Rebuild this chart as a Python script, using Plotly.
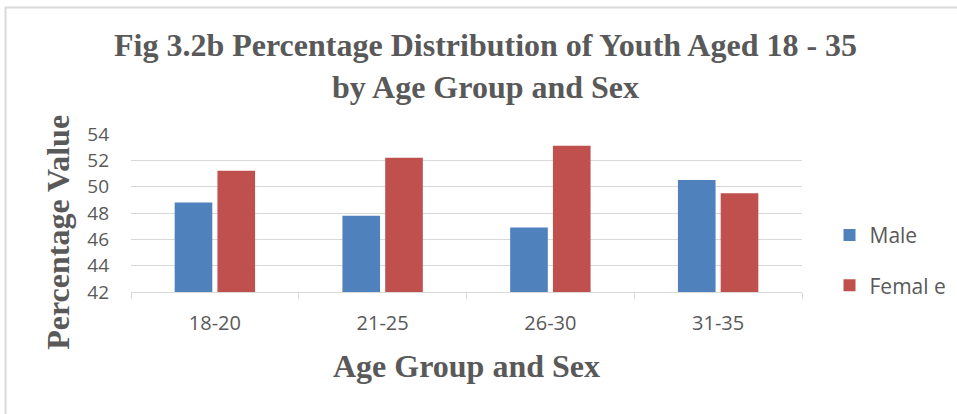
import plotly.graph_objects as go

# Age groups and percentage shares by sex
age_groups = ["18-20", "21-25", "26-30", "31-35"]
male_pct = [48.8, 47.8, 46.9, 50.5]
female_pct = [51.2, 52.2, 53.1, 49.5]
y_ticks = [42, 44, 46, 48, 50, 52, 54]

TEXT_GREY = "#595959"
SERIF = "Liberation Serif, Times New Roman, serif"
SANS = "Open Sans, Noto Sans, sans-serif"
TITLE = "Fig 3.2b Percentage Distribution of Youth Aged 18 - 35<br>by Age Group and Sex"
Y_TITLE = "Percentage Value"

fig = go.Figure()
fig.add_trace(go.Bar(name="Male", x=age_groups, y=male_pct,
                     marker=dict(color="#4F81BD", line=dict(width=0)),
                     legendgroup="m"))
fig.add_trace(go.Bar(name="Femal e", x=age_groups, y=female_pct,
                     marker=dict(color="#C0504D", line=dict(width=0)),
                     legendgroup="f"))

title_font = dict(family=SERIF, size=32, color=TEXT_GREY, weight="bold")

fig.update_layout(
    width=957, height=414,
    margin=dict(l=131, r=155, t=134, b=122, autoexpand=False),
    paper_bgcolor="white", plot_bgcolor="white",
    barmode="group", bargap=0.49, bargroupgap=0.12,
    xaxis=dict(
        showgrid=False, showline=True, linecolor="#D9D9D9", linewidth=1,
        ticks="outside", ticklen=6, tickcolor="#D9D9D9",
        tickson="boundaries", ticklabelstandoff=13,
        tickfont=dict(family=SANS, size=20, color=TEXT_GREY),
        title=dict(text="Age Group and Sex", standoff=19, font=title_font),
    ),
    yaxis=dict(
        range=[42, 54], tickvals=y_ticks, showgrid=True, gridcolor="#D9D9D9",
        gridwidth=1, zeroline=False, showline=False, ticks="",
        ticklabelstandoff=21,
        tickfont=dict(family=SANS, size=19, color=TEXT_GREY),
    ),
    legend=dict(
        x=1.041, xanchor="left", y=0.2, yanchor="middle",
        traceorder="grouped", tracegroupgap=20,
        font=dict(family=SANS, size=21, color=TEXT_GREY),
        itemwidth=30,
    ),
    annotations=[
        dict(text=TITLE, xref="paper", yref="paper", x=0.529, y=1.0 + (134 - 66) / 158,
             xanchor="center", yanchor="middle", showarrow=False, align="center",
             font=title_font),
        dict(text=Y_TITLE, xref="paper", yref="paper", x=-0.109, y=0.38,
             xanchor="center", yanchor="middle", showarrow=False, textangle=-90,
             font=title_font),
    ],
    shapes=[dict(type="rect", xref="paper", yref="paper",
                 x0=-0.187, x1=1.5, y0=-0.9, y1=1.80,
                 line=dict(color="#D9D9D9", width=2), layer="below")],
)

fig.write_html("out.html")
